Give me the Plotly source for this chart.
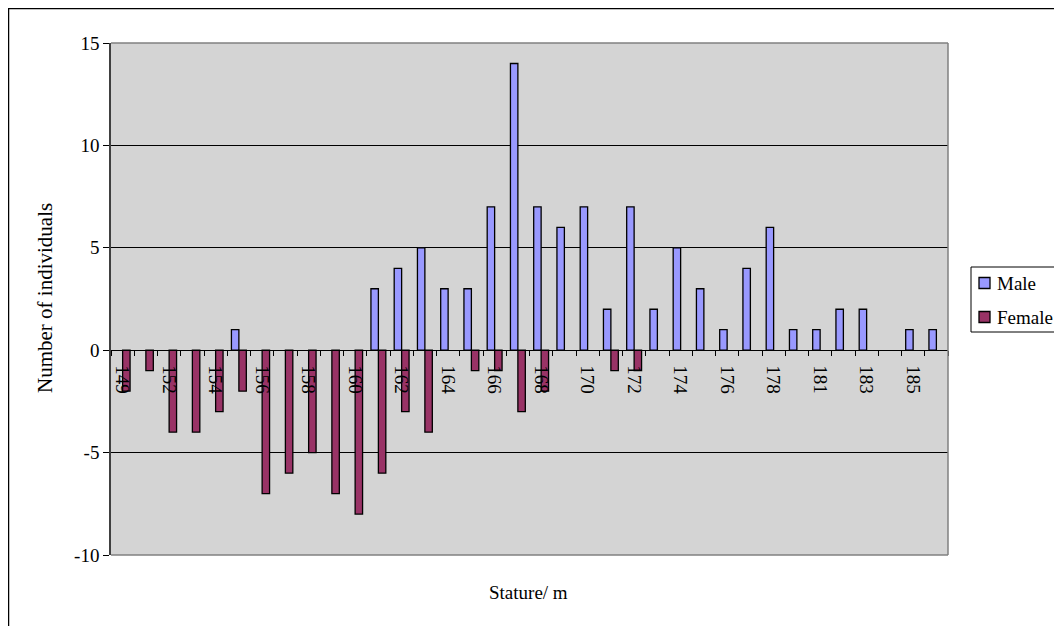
import plotly.graph_objects as go

categories = ["149", "150", "152", "153", "154", "155", "156", "157", "158", "159",
              "160", "161", "162", "163", "164", "165", "166", "167", "168", "169",
              "170", "171", "172", "173", "174", "175", "176", "177", "178", "179",
              "181", "182", "183", "184", "185", "186"]
male = [0, 0, 0, 0, 0, 1, 0, 0, 0, 0,
        0, 3, 4, 5, 3, 3, 7, 14, 7, 6,
        7, 2, 7, 2, 5, 3, 1, 4, 6, 1,
        1, 2, 2, 0, 1, 1]
female = [-2, -1, -4, -4, -3, -2, -7, -6, -5, -7,
          -8, -6, -3, -4, 0, -1, -1, -3, -2, 0,
          0, -1, -1, 0, 0, 0, 0, 0, 0, 0,
          0, 0, 0, 0, 0, 0]
tick_labels = [c if i % 2 == 0 else "" for i, c in enumerate(categories)]
series_names = ["Male", "Female"]
series_colors = ["#9999FF", "#993366"]

FONT = "Liberation Serif, Times New Roman, serif"
FS = 19

# The page body adds an 8px offset; figure is sized to fill the rest of the window.
OFF = 8
W, H = 1062 - OFF, 626 - OFF
PL, PR, PT, PB = 111, 948, 43, 555  # plot area in screen pixels


def px(xs):
    return (xs - PL) / (PR - PL)


def py(ys):
    return (PB - ys) / (PB - PT)


def hide_zero(vals):
    return [v if v != 0 else None for v in vals]


fig = go.Figure()
for name, vals, col in zip(series_names, [male, female], series_colors):
    fig.add_trace(go.Bar(x=categories, y=hide_zero(vals), name=name, showlegend=False,
                         marker=dict(color=col, line=dict(color="black", width=1.3))))

fig.update_layout(
    width=W, height=H,
    margin=dict(l=PL - OFF, r=W - (PR - OFF), t=PT - OFF, b=H - (PB - OFF), autoexpand=False),
    paper_bgcolor="white",
    plot_bgcolor="#d4d4d4",
    barmode="group",
    bargap=0.36,
    bargroupgap=0,
    font=dict(family=FONT, size=FS, color="black"),
    showlegend=False,
    xaxis=dict(
        type="category",
        tickmode="array", tickvals=categories, ticktext=tick_labels,
        tickangle=90, tickson="boundaries", ticks="outside", ticklen=5,
        tickcolor="black", tickwidth=1,
        showline=True, linecolor="black", linewidth=1.3,
        showgrid=False, zeroline=False,
        anchor="free", position=0.4,
        automargin=False,
        ticklabelstandoff=10,
        tickfont=dict(family=FONT, size=FS),
    ),
    yaxis=dict(
        range=[-10, 15], tickvals=[-10, -5, 0, 5, 10, 15],
        ticktext=["-10", "-5", "0", "5", "10", "15"],
        ticks="outside", ticklen=6, tickcolor="black",
        showline=True, linecolor="#404040", linewidth=1.5,
        showgrid=True, gridcolor="black", gridwidth=1,
        zeroline=False, automargin=False,
        tickfont=dict(family=FONT, size=FS),
    ),
)

# Plot-area gray frame (top, right, bottom)
for x0, x1, y0, y1 in [(0, 1, 1, 1), (1, 1, 0, 1), (0, 1, 0, 0)]:
    fig.add_shape(type="line", xref="paper", yref="paper", x0=x0, x1=x1, y0=y0, y1=y1,
                  line=dict(color="#808080", width=1.5), layer="above")

# Outer chart border (top and left visible)
fig.add_shape(type="line", xref="paper", yref="paper",
              x0=px(8), x1=px(1080), y0=py(8.5), y1=py(8.5),
              line=dict(color="black", width=1.5))
fig.add_shape(type="line", xref="paper", yref="paper",
              x0=px(8.5), x1=px(8.5), y0=py(8), y1=py(640),
              line=dict(color="black", width=1.5))

# Legend (drawn manually to match compact layout)
fig.add_shape(type="rect", xref="paper", yref="paper",
              x0=px(971), x1=px(1080), y0=py(332), y1=py(267),
              fillcolor="white", line=dict(color="black", width=1))
for i, (name, col) in enumerate(zip(series_names, series_colors)):
    yc = 283 + 34 * i
    fig.add_shape(type="rect", xref="paper", yref="paper",
                  x0=px(979), x1=px(990), y0=py(yc + 5.5), y1=py(yc - 5.5),
                  fillcolor=col, line=dict(color="black", width=1.3))
    fig.add_annotation(text=name, xref="paper", yref="paper", x=px(995), y=py(yc),
                       xanchor="left", yanchor="middle", showarrow=False,
                       font=dict(family=FONT, size=FS))

# Axis titles
fig.add_annotation(text="Stature/ m", xref="paper", yref="paper",
                   x=px(528), y=py(592), showarrow=False,
                   font=dict(family=FONT, size=FS), yanchor="middle", xanchor="center")
fig.add_annotation(text="Number of individuals", xref="paper", yref="paper",
                   x=px(45), y=py(298), showarrow=False, textangle=-90,
                   font=dict(family=FONT, size=21), yanchor="middle", xanchor="center")

fig.write_html("out.html")
